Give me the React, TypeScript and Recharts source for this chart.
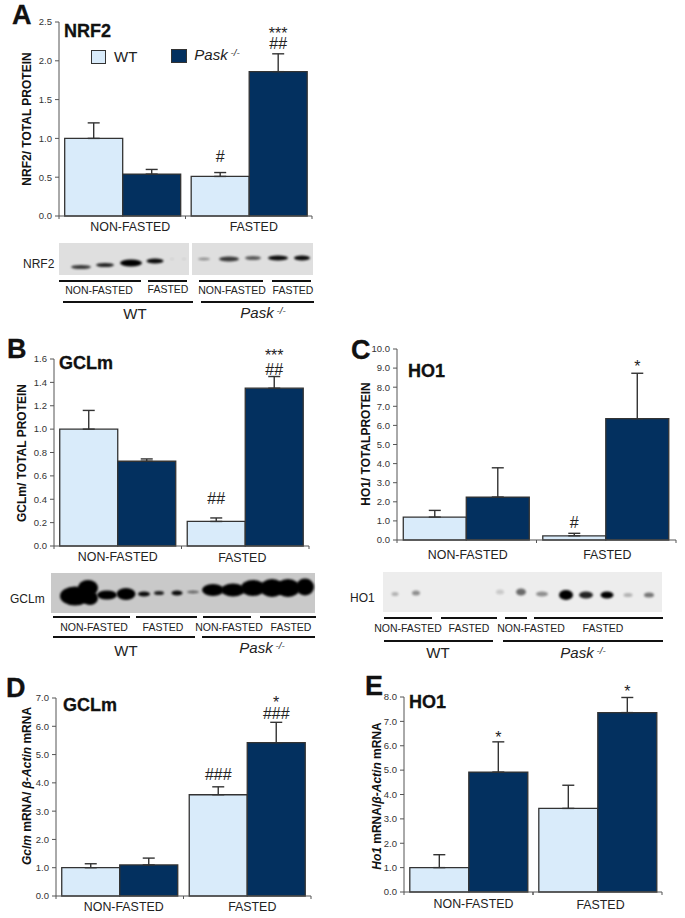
import React from 'react';
import { BarChart, Bar, XAxis, YAxis, ErrorBar, LabelList } from 'recharts';

const groups = ['NON-FASTED', 'FASTED'];

// Panel A - NRF2 protein
const nrf2Wt = [1.0, 0.51];
const nrf2Pask = [0.54, 1.86];
const nrf2WtErr = [0.2, 0.05];
const nrf2PaskErr = [0.06, 0.23];
const nrf2Ticks = [0, 0.5, 1, 1.5, 2, 2.5];

// Panel B - GCLm protein
const gclmWt = [1.0, 0.21];
const gclmPask = [0.725, 1.35];
const gclmWtErr = [0.16, 0.03];
const gclmPaskErr = [0.02, 0.1];
const gclmTicks = [0, 0.2, 0.4, 0.6, 0.8, 1, 1.2, 1.4, 1.6];

// Panel C - HO1 protein
const ho1Wt = [1.2, 0.22];
const ho1Pask = [2.25, 6.35];
const ho1WtErr = [0.35, 0.13];
const ho1PaskErr = [1.53, 2.38];
const ho1Ticks = [0, 1, 2, 3, 4, 5, 6, 7, 8, 9, 10];

// Panel D - Gclm mRNA
const gclmMrnaWt = [1.0, 3.58];
const gclmMrnaPask = [1.1, 5.42];
const gclmMrnaWtErr = [0.14, 0.28];
const gclmMrnaPaskErr = [0.24, 0.72];
const gclmMrnaTicks = [0, 1, 2, 3, 4, 5, 6, 7];

// Panel E - Ho1 mRNA
const ho1MrnaWt = [1.0, 3.43];
const ho1MrnaPask = [4.92, 7.36];
const ho1MrnaWtErr = [0.53, 0.95];
const ho1MrnaPaskErr = [1.24, 0.62];
const ho1MrnaTicks = [0, 1, 2, 3, 4, 5, 6, 7, 8];

const FONT = '"Liberation Sans", Arial, sans-serif';
const LIGHT = '#d9ebfa';
const DARK = '#03305f';
const EDGE = '#333';

const buildRows = (wt: number[], pask: number[], wtErr: number[], paskErr: number[]) =>
  groups.map((group, i) => ({
    group,
    wt: wt[i],
    pask: pask[i],
    // upper whisker only
    wtErr: [0, wtErr[i]],
    paskErr: [0, paskErr[i]],
  }));

interface Mark {
  group: number;
  series: 'wt' | 'pask';
  text: string;
  lift: number;
}

interface PanelProps {
  left: number;
  right: number;
  top: number;
  bottom: number;
  rows: any[];
  ticks: number[];
  marks: Mark[];
  labelShift: number[];
  labelDrop: number[];
}

function Panel({ left, right, top, bottom, rows, ticks, marks, labelShift, labelDrop }: PanelProps) {
  const yMax = ticks[ticks.length - 1];
  const plotH = bottom - top;
  const plotW = right - left;
  const band = plotW / 2;
  const AXIS_W = 50;

  const GroupTick = ({ x, index }: any) => (
    <g>
      <line x1={x - band / 2} x2={x - band / 2} y1={bottom - top + 14} y2={bottom - top + 17} stroke="#555" />
      <line x1={x + band / 2} x2={x + band / 2} y1={bottom - top + 14} y2={bottom - top + 17} stroke="#555" />
      <text
        x={x + labelShift[index]}
        y={bottom - top + 14 + labelDrop[index]}
        textAnchor="middle"
        fontFamily={FONT}
        fontSize={12.4}
        fill="#222"
      >
        {groups[index]}
      </text>
    </g>
  );

  // stacked significance marks go in one text element, above the whisker
  const markLabel = (series: 'wt' | 'pask', errKey: 'wtErr' | 'paskErr') => (props: any) => {
    const { x, y, width, index } = props;
    const err = rows[index][errKey][1];
    const errTop = y - (err * plotH) / yMax;
    const mine = marks.filter((m) => m.group === index && m.series === series);
    if (mine.length === 0) return null;
    return (
      <text textAnchor="middle" fontFamily={FONT} fontSize={16} fill="#222">
        {mine.map((m) => (
          <tspan key={m.text} x={x + width / 2} y={errTop - m.lift}>
            {m.text}
          </tspan>
        ))}
      </text>
    );
  };

  return (
    <div style={{ position: 'absolute', left: left - AXIS_W, top: top - 14 }}>
      <BarChart
        width={plotW + AXIS_W + 10}
        height={plotH + 14 + 30}
        data={rows}
        margin={{ top: 14, right: 10, bottom: 0, left: 0 }}
        barCategoryGap="4.5%"
        barGap={0}
      >
        <XAxis dataKey="group" height={30} tickLine={false} interval={0} stroke="#555" tick={<GroupTick />} />
        <YAxis
          width={AXIS_W}
          domain={[0, yMax]}
          ticks={ticks}
          interval={0}
          tickFormatter={(v: number) => v.toFixed(1)}
          tickSize={4}
          tickMargin={3}
          stroke="#555"
          tick={{ fontSize: 9.5, fontFamily: FONT, fill: '#333' }}
        />
        <Bar dataKey="wt" fill={LIGHT} stroke={EDGE} strokeWidth={1.3} isAnimationActive={false}>
          <ErrorBar dataKey="wtErr" direction="y" width={6} stroke={EDGE} strokeWidth={1.4} isAnimationActive={false} />
          <LabelList dataKey="wt" content={markLabel('wt', 'wtErr')} />
        </Bar>
        <Bar dataKey="pask" fill={DARK} stroke={EDGE} strokeWidth={1.3} isAnimationActive={false}>
          <ErrorBar dataKey="paskErr" direction="y" width={6} stroke={EDGE} strokeWidth={1.4} isAnimationActive={false} />
          <LabelList dataKey="pask" content={markLabel('pask', 'paskErr')} />
        </Bar>
      </BarChart>
    </div>
  );
}

// Plain drawn copies of the western blot strips: [cx, cy, rx, ry, opacity]
const blotABands = [
  [81, 267, 10, 2, 0.75], [105, 265, 9, 2, 0.85], [131, 263, 11, 3.5, 1], [155, 261, 8.5, 2.5, 0.95],
  [172, 259, 2, 1, 0.08], [184, 259, 2, 1, 0.08], [204, 259, 6, 1.5, 0.35], [229, 259, 10, 2.5, 0.75],
  [253, 258, 8, 2, 0.6], [278, 258, 10, 2.5, 0.95], [302, 258, 8, 2.5, 0.95],
];
const blotBBands = [
  [75, 596, 15, 9.5, 1], [88, 588, 10, 8, 1], [90, 598, 8, 7, 1], [107, 595, 10, 4.5, 1], [126, 594, 9.5, 6, 1],
  [144, 594, 6, 2.5, 0.95], [159, 593, 5, 2, 0.85], [177, 593, 5.5, 2.5, 0.95], [193, 592, 6, 1.5, 0.5],
  [213, 590, 11, 6, 1], [233, 590, 12, 6.5, 1], [253, 588, 12, 8, 1], [272, 588, 12, 9, 1],
  [288, 588, 12, 9, 1], [305, 587, 9, 8.5, 1],
];
const blotCBands = [
  [395, 594, 3.5, 2, 0.25], [416, 593, 4, 2.5, 0.4], [500, 592, 4, 2.5, 0.15], [521, 592, 5, 3.5, 0.55],
  [542, 594, 6, 2.5, 0.4], [566, 595, 7, 5, 1], [586, 595, 7, 3.5, 0.85], [607, 595, 6.5, 3.5, 1],
  [628, 595, 4.5, 2, 0.25], [649, 595, 5, 2.5, 0.5],
];

// [x1, x2, y]
const bracketLines = [
  [59, 141, 281], [148, 187, 281], [199, 263, 281], [272, 311, 281], [63, 193, 302], [201, 314, 302],
  [53, 130, 617], [136, 197, 617], [203, 251, 617], [260, 316, 617], [53, 195, 637], [202, 315, 637],
  [384, 432, 618], [441, 497, 618], [505, 527, 618], [534, 663, 618], [384, 493, 641], [503, 663, 641],
];

// [text, cx, baseline]
const bracketLabels: [string, number, number][] = [
  ['NON-FASTED', 99, 294], ['FASTED', 168, 293], ['NON-FASTED', 232, 294], ['FASTED', 293, 294],
  ['NON-FASTED', 94, 631], ['FASTED', 163, 631], ['NON-FASTED', 229, 631], ['FASTED', 291, 631],
  ['NON-FASTED', 408, 632], ['FASTED', 469, 632], ['NON-FASTED', 531, 632], ['FASTED', 603, 632],
];

const Knockout = ({ x, y, size }: { x: number; y: number; size: number }) => (
  <text x={x} y={y} textAnchor="middle" fontFamily={FONT} fontSize={size} fontStyle="italic" fill="#222">
    Pask
    <tspan dy={-size * 0.3} fontSize={size * 0.65}>
      {' -/-'}
    </tspan>
  </text>
);

const Bold = ({ x, y, size, children }: any) => (
  <text x={x} y={y} fontFamily={FONT} fontSize={size} fontWeight="bold" fill="#111" stroke="#111" strokeWidth={0.3}>
    {children}
  </text>
);

const YTitle = ({ x, y, children }: any) => (
  <text
    transform={`translate(${x},${y}) rotate(-90)`}
    textAnchor="middle"
    fontFamily={FONT}
    fontSize={12}
    fontWeight="bold"
    fill="#111"
  >
    {children}
  </text>
);

function Decorations() {
  const bands = (list: number[][], blur: string) =>
    list.map((b, i) => <ellipse key={i} cx={b[0]} cy={b[1]} rx={b[2]} ry={b[3]} fill="#000" opacity={b[4]} filter={blur} />);
  return (
    <svg width={685} height={918} style={{ position: 'absolute', left: 0, top: 0, pointerEvents: 'none' }}>
      <defs>
        <filter id="soft" x="-50%" y="-50%" width="200%" height="200%">
          <feGaussianBlur stdDeviation="1.2" />
        </filter>
      </defs>

      {/* panel letters and titles */}
      <Bold x={12} y={24} size={27}>A</Bold>
      <Bold x={7} y={358} size={27}>B</Bold>
      <Bold x={351} y={359} size={27}>C</Bold>
      <Bold x={6} y={697} size={27}>D</Bold>
      <Bold x={365} y={695} size={27}>E</Bold>
      <Bold x={64} y={37} size={18}>NRF2</Bold>
      <Bold x={59} y={369} size={18}>GCLm</Bold>
      <Bold x={408} y={377} size={18}>HO1</Bold>
      <Bold x={63} y={711} size={18}>GCLm</Bold>
      <Bold x={409} y={708} size={18}>HO1</Bold>

      {/* y axis titles */}
      <YTitle x={31} y={119}>NRF2/ TOTAL PROTEIN</YTitle>
      <YTitle x={26} y={453}>GCLm/ TOTAL PROTEIN</YTitle>
      <YTitle x={370} y={444}>HO1/ TOTALPROTEIN</YTitle>
      <YTitle x={31} y={786}>
        <tspan fontStyle="italic">Gclm</tspan> mRNA/ <tspan fontStyle="italic">β-Actin</tspan> mRNA
      </YTitle>
      <YTitle x={381} y={796}>
        <tspan fontStyle="italic">Ho1</tspan> mRNA/<tspan fontStyle="italic">β-Actin</tspan> mRNA
      </YTitle>

      {/* legend */}
      <rect x={91.5} y={50.5} width={14} height={13} fill={LIGHT} stroke={EDGE} />
      <text x={114} y={62} fontFamily={FONT} fontSize={15} fill="#222">WT</text>
      <rect x={171.5} y={49.5} width={15} height={13} fill={DARK} stroke={EDGE} />
      <Knockout x={217} y={60} size={15} />

      {/* blots */}
      <rect x={59} y={243} width={130} height={32} fill="#dfdfdf" />
      <rect x={192} y={243} width={121} height={32} fill="#dfdfdf" />
      <rect x={51} y={573} width={264} height={40} fill="#c9c9c9" />
      <rect x={383} y={572} width={279} height={40} fill="#ededed" />
      {bands(blotABands, 'url(#soft)')}
      {bands(blotBBands, 'url(#soft)')}
      {bands(blotCBands, 'url(#soft)')}

      <g fontFamily={FONT} fontSize={12} fill="#222">
        <text x={23} y={268}>NRF2</text>
        <text x={10} y={603}>GCLm</text>
        <text x={350} y={602}>HO1</text>
      </g>

      {bracketLines.map((l, i) => (
        <line key={i} x1={l[0]} x2={l[1]} y1={l[2]} y2={l[2]} stroke="#111" strokeWidth={2} />
      ))}
      {bracketLabels.map(([t, x, y], i) => (
        <text key={i} x={x} y={y} textAnchor="middle" fontFamily={FONT} fontSize={10.5} fill="#222">
          {t}
        </text>
      ))}

      <g fontFamily={FONT} fontSize={15} fill="#222" textAnchor="middle">
        <text x={135} y={319}>WT</text>
        <text x={126} y={656}>WT</text>
        <text x={438} y={658}>WT</text>
      </g>
      <Knockout x={263} y={318} size={15} />
      <Knockout x={262} y={653} size={15} />
      <Knockout x={583} y={658} size={15} />
    </svg>
  );
}

export default function App() {
  return (
    <div style={{ position: 'absolute', left: 0, top: 0, width: 685, height: 918, background: '#fff', overflow: 'hidden' }}>
      <Panel
        left={59}
        right={312}
        top={22}
        bottom={216}
        rows={buildRows(nrf2Wt, nrf2Pask, nrf2WtErr, nrf2PaskErr)}
        ticks={nrf2Ticks}
        labelShift={[8, 5]}
        labelDrop={[15, 15]}
        marks={[
          { group: 1, series: 'wt', text: '#', lift: 11 },
          { group: 1, series: 'pask', text: '***', lift: 15 },
          { group: 1, series: 'pask', text: '##', lift: 5 },
        ]}
      />
      <Panel
        left={54}
        right={309}
        top={359}
        bottom={546}
        rows={buildRows(gclmWt, gclmPask, gclmWtErr, gclmPaskErr)}
        ticks={gclmTicks}
        labelShift={[0, -3]}
        labelDrop={[15, 16]}
        marks={[
          { group: 1, series: 'wt', text: '##', lift: 14 },
          { group: 1, series: 'pask', text: '***', lift: 16 },
          { group: 1, series: 'pask', text: '##', lift: 1.5 },
        ]}
      />
      <Panel
        left={397}
        right={676}
        top={349}
        bottom={540}
        rows={buildRows(ho1Wt, ho1Pask, ho1WtErr, ho1PaskErr)}
        ticks={ho1Ticks}
        labelShift={[1, 1]}
        labelDrop={[19, 19]}
        marks={[
          { group: 1, series: 'wt', text: '#', lift: 5 },
          { group: 1, series: 'pask', text: '*', lift: 1 },
        ]}
      />
      <Panel
        left={56}
        right={311}
        top={698}
        bottom={896}
        rows={buildRows(gclmMrnaWt, gclmMrnaPask, gclmMrnaWtErr, gclmMrnaPaskErr)}
        ticks={gclmMrnaTicks}
        labelShift={[4, 5]}
        labelDrop={[15, 15]}
        marks={[
          { group: 1, series: 'wt', text: '###', lift: 7 },
          { group: 1, series: 'pask', text: '*', lift: 14 },
          { group: 1, series: 'pask', text: '###', lift: 3 },
        ]}
      />
      <Panel
        left={404}
        right={662}
        top={697}
        bottom={892}
        rows={buildRows(ho1MrnaWt, ho1MrnaPask, ho1MrnaWtErr, ho1MrnaPaskErr)}
        ticks={ho1MrnaTicks}
        labelShift={[5, 3]}
        labelDrop={[16, 17]}
        marks={[
          { group: 0, series: 'pask', text: '*', lift: -1 },
          { group: 1, series: 'pask', text: '*', lift: 0 },
        ]}
      />
      <Decorations />
    </div>
  );
}
